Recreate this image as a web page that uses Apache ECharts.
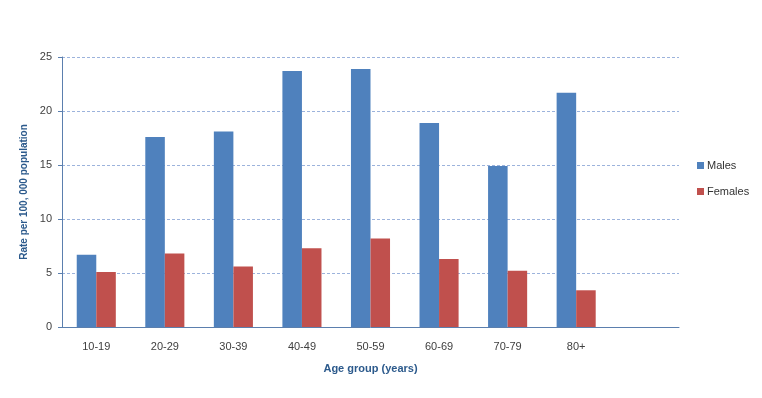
<!DOCTYPE html>
<html>
<head>
<meta charset="utf-8">
<script src="https://cdn.jsdelivr.net/npm/echarts@6/dist/echarts.min.js"></script>
<style>html,body{margin:0;padding:0;background:#fff;}#c{width:762px;height:398px;}</style>
</head>
<body>
<div id="c"></div>
<script>
var categories = ['10-19', '20-29', '30-39', '40-49', '50-59', '60-69', '70-79', '80+', ''];
var males = [6.7, 17.6, 18.1, 23.7, 23.9, 18.9, 14.9, 21.7, null];
var females = [5.1, 6.8, 5.6, 7.3, 8.2, 6.3, 5.2, 3.4, null];
var yTicks = [0, 5, 10, 15, 20, 25];

var font = 'Liberation Sans, Arial, sans-serif';
var chart = echarts.init(document.getElementById('c'), null, {renderer: 'canvas'});
chart.setOption({
  animation: false,
  backgroundColor: '#ffffff',
  textStyle: {fontFamily: font},
  grid: {left: 62, right: 83, top: 57, bottom: 71, containLabel: false},
  legend: {
    orient: 'vertical', left: 692, top: 155,
    icon: 'rect', itemWidth: 7, itemHeight: 7, itemGap: 15,
    textStyle: {fontFamily: font, fontSize: 11, color: '#333333', padding: [0, 0, 0, -2]},
    data: ['Males', 'Females']
  },
  xAxis: {
    type: 'category', data: categories,
    name: 'Age group (years)', nameLocation: 'middle', nameGap: 36,
    nameTextStyle: {fontFamily: font, fontSize: 11, fontWeight: 'bold', color: '#2c5a8c'},
    axisLine: {lineStyle: {color: '#5b7fae', width: 1}},
    axisTick: {show: false},
    axisLabel: {fontFamily: font, fontSize: 11, color: '#404040', margin: 14}
  },
  yAxis: {
    type: 'value', min: yTicks[0], max: yTicks[yTicks.length - 1], interval: 5,
    name: 'Rate per 100, 000 population', nameLocation: 'middle', nameGap: 31,
    nameTextStyle: {fontFamily: font, fontSize: 10, fontWeight: 'bold', color: '#2c5a8c'},
    axisLine: {show: true, lineStyle: {color: '#5b7fae', width: 1}},
    axisTick: {show: true, length: 4, lineStyle: {color: '#5b7fae'}},
    axisLabel: {fontFamily: font, fontSize: 11, color: '#404040', margin: 10},
    splitLine: {lineStyle: {color: '#9cb3dc', type: [3, 2], width: 1}}
  },
  series: [
    {name: 'Males', type: 'bar', data: males, barGap: '0%', barCategoryGap: '43%',
     itemStyle: {color: '#4f81bd'}},
    {name: 'Females', type: 'bar', data: females, barGap: '0%', barCategoryGap: '43%',
     itemStyle: {color: '#c0504d'}}
  ]
});
</script>
</body>
</html>
